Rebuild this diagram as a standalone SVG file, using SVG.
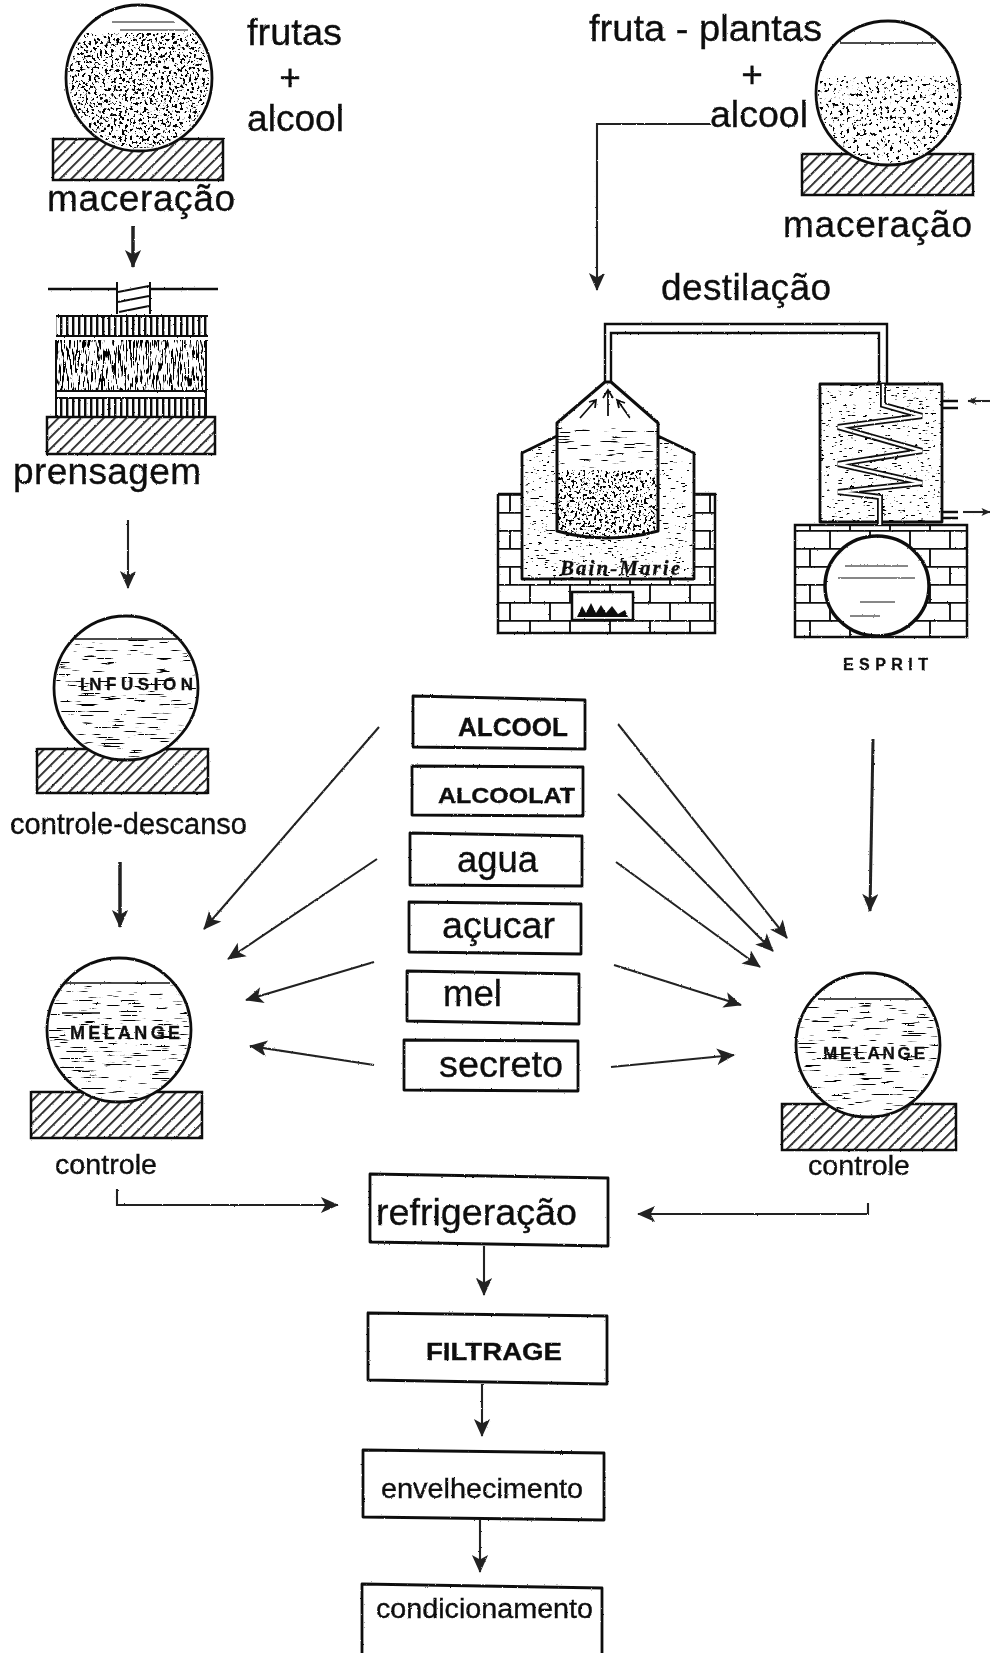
<svg xmlns="http://www.w3.org/2000/svg" width="990" height="1653" viewBox="0 0 990 1653">
<style>
text{font-family:"Liberation Sans",Arial,sans-serif;fill:#111;stroke:#111;stroke-width:.35}
.l{font-size:37px}
.m{font-size:29px}
.h{font-weight:bold}
.s{fill:none;stroke:#111;stroke-width:2.5}
.b{fill:#fff;stroke:#111;stroke-width:2.8;stroke-linejoin:round}
.w{fill:none;stroke:#111;stroke-width:1.2}
.c{fill:none;stroke:#222;stroke-width:2.1;marker-end:url(#head)}
.e{fill:none;stroke:#222;stroke-width:2.1}
</style>
<defs>
<marker id="head" markerUnits="userSpaceOnUse" viewBox="0 0 20 20" refX="19" refY="10" markerWidth="20" markerHeight="18" orient="auto"><path d="M20,10 L0,1 L5,10 L0,19 Z" fill="#222"/></marker>
<marker id="tiny" markerUnits="userSpaceOnUse" viewBox="0 0 20 20" refX="19" refY="10" markerWidth="10" markerHeight="9" orient="auto"><path d="M20,10 L0,1 L5,10 L0,19 Z" fill="#222"/></marker>
<pattern id="hatch" width="8" height="8" patternUnits="userSpaceOnUse" patternTransform="rotate(-45)"><rect width="8" height="8" fill="#fff"/><rect width="8" height="1.8" fill="#222"/></pattern>
<pattern id="brick" width="40" height="36" patternUnits="userSpaceOnUse" patternTransform="translate(498 494)"><path d="M0,.9H40M0,18.9H40M12,0V18M32,18V36" fill="none" stroke="#111" stroke-width="1.9"/></pattern>
<pattern id="vert" width="6" height="10" patternUnits="userSpaceOnUse"><rect width="2.4" height="10" fill="#111"/></pattern>
<filter id="rough" x="0" y="0" width="100%" height="100%" filterUnits="userSpaceOnUse" primitiveUnits="userSpaceOnUse"><feTurbulence type="fractalNoise" baseFrequency="0.7" numOctaves="1" seed="4" result="n"/><feDisplacementMap in="SourceGraphic" in2="n" scale="2.2" xChannelSelector="R" yChannelSelector="G"/></filter>
<filter id="speck" x="0" y="0" width="100%" height="100%" color-interpolation-filters="sRGB"><feTurbulence type="fractalNoise" baseFrequency="0.36" numOctaves="2" seed="3"/><feColorMatrix values="0 0 0 0 0 0 0 0 0 0 0 0 0 0 0 16 0 0 0 -9"/></filter>
<filter id="speckB" x="0" y="0" width="100%" height="100%" color-interpolation-filters="sRGB"><feTurbulence type="fractalNoise" baseFrequency="0.3" numOctaves="2" seed="8"/><feColorMatrix values="0 0 0 0 0 0 0 0 0 0 0 0 0 0 0 16 0 0 0 -9.8"/></filter>
<filter id="water" x="0" y="0" width="100%" height="100%" color-interpolation-filters="sRGB"><feTurbulence type="fractalNoise" baseFrequency="0.04 0.7" numOctaves="2" seed="5"/><feColorMatrix values="0 0 0 0 0 0 0 0 0 0 0 0 0 0 0 18 0 0 0 -11.9"/></filter>
<filter id="dots" x="0" y="0" width="100%" height="100%" color-interpolation-filters="sRGB"><feTurbulence type="fractalNoise" baseFrequency="0.16 0.6" numOctaves="2" seed="11"/><feColorMatrix values="0 0 0 0 0 0 0 0 0 0 0 0 0 0 0 18 0 0 0 -12.2"/></filter>
<filter id="stripe" x="0" y="0" width="100%" height="100%" color-interpolation-filters="sRGB"><feTurbulence type="fractalNoise" baseFrequency="0.6 0.08" numOctaves="2" seed="7"/><feColorMatrix values="0 0 0 0 0 0 0 0 0 0 0 0 0 0 0 14 0 0 0 -7.4"/></filter>
<clipPath id="cf1"><circle cx="139" cy="78" r="70"/></clipPath>
<clipPath id="cf2"><circle cx="888" cy="93" r="70"/></clipPath>
<clipPath id="cf3"><circle cx="126" cy="688" r="70"/></clipPath>
<clipPath id="cf4"><circle cx="119" cy="1030" r="70"/></clipPath>
<clipPath id="cf5"><circle cx="868" cy="1045" r="70"/></clipPath>
<clipPath id="cjacket"><path d="M522,453L557,436V531Q607,545 658,531V436L694,453V579H522Z"/></clipPath>
<clipPath id="cinner"><path d="M557,423L605,385H611L658,423V531Q607,545 557,531Z"/></clipPath>
</defs>
<g filter="url(#rough)">
<rect width="990" height="1653" fill="#fff"/>
<g id="connectors">
<path class="c" d="M133,226V267" style="stroke-width:3.5"/>
<path class="c" d="M128,520V588"/>
<path class="c" d="M120,862V927" style="stroke-width:3.5"/>
<path class="c" d="M710,124H597V290"/>
<path class="c" d="M379,727L204,929"/>
<path class="c" d="M377,859L228,959"/>
<path class="c" d="M374,962L246,1000"/>
<path class="c" d="M374,1065L250,1046"/>
<path class="c" d="M618,724L787,938"/>
<path class="c" d="M618,794L773,951"/>
<path class="c" d="M616,862L760,967"/>
<path class="c" d="M614,965L741,1005"/>
<path class="c" d="M611,1067L734,1055"/>
<path class="c" d="M873,739L870,911" style="stroke-width:3"/>
<path class="c" d="M117,1189V1205H338"/>
<path class="c" d="M868,1203V1214H638"/>
<path class="c" d="M484,1246V1295"/>
<path class="c" d="M482,1384V1436"/>
<path class="c" d="M480,1520V1572"/>
<path class="e" d="M990,401H968" style="marker-end:url(#tiny)"/>
<path class="e" d="M963,512H990" style="marker-end:url(#tiny)"/>
</g>

<g id="maceracao-frutas">
<rect class="s" x="53" y="139" width="170" height="41" style="fill:url(#hatch)"/>
<circle class="b" cx="139" cy="78" r="73"/>
<rect x="66" y="33" width="146" height="122" filter="url(#speck)" clip-path="url(#cf1)"/>
<path class="w" d="M112,22H175M120,30H188"/>
<text class="l" x="47" y="211" textLength="188" lengthAdjust="spacing">maceração</text>
</g>
<g id="label-frutas">
<text class="l" x="247" y="45" textLength="95" lengthAdjust="spacingAndGlyphs">frutas</text>
<text class="l" x="290" y="90" text-anchor="middle">+</text>
<text class="l" x="247" y="131" textLength="97" lengthAdjust="spacingAndGlyphs">alcool</text>
</g>

<g id="prensagem">
<path class="s" d="M48,289H218"/>
<path d="M117,282H150V314H117Z" fill="#fff"/>
<path class="s" d="M117,282V314M150,282V314M118,292L149,286M118,302L149,296M119,312L149,306" style="stroke-width:2"/>
<rect x="56" y="316" width="152" height="20" fill="url(#vert)"/>
<rect x="56" y="340" width="150" height="51" filter="url(#stripe)"/>
<rect x="56" y="398" width="150" height="19" fill="url(#vert)"/>
<path class="s" d="M56,316H208M56,336H208M56,340V416M206,340V416M56,391H206M56,398H206" style="stroke-width:2"/>
<rect class="s" x="47" y="417" width="168" height="37" style="fill:url(#hatch)"/>
<text class="l" x="13" y="484" textLength="188" lengthAdjust="spacing">prensagem</text>
</g>

<g id="infusion">
<rect class="s" x="37" y="749" width="171" height="44" style="fill:url(#hatch)"/>
<circle class="b" cx="126" cy="688" r="72"/>
<path class="s" d="M75,639H177" style="stroke-width:1.5"/>
<rect x="54" y="640" width="144" height="118" filter="url(#water)" clip-path="url(#cf3)"/>
<text class="h" x="80" y="690" font-size="17" textLength="113" lengthAdjust="spacing">INFUSION</text>
<text class="m" x="10" y="834" textLength="237" lengthAdjust="spacingAndGlyphs">controle-descanso</text>
</g>

<g id="melange-esquerda">
<rect class="s" x="31" y="1092" width="171" height="46" style="fill:url(#hatch)"/>
<circle class="b" cx="119" cy="1030" r="72"/>
<path class="s" d="M66,983H170M62,1013H100" style="stroke-width:1.5"/>
<rect x="48" y="982" width="144" height="118" filter="url(#water)" clip-path="url(#cf4)"/>
<text class="h" x="70" y="1039" font-size="18" textLength="110" lengthAdjust="spacing">MELANGE</text>
<text class="m" x="55" y="1174" textLength="102" lengthAdjust="spacingAndGlyphs" style="font-size:27px">controle</text>
</g>

<g id="melange-direita">
<rect class="s" x="782" y="1104" width="174" height="46" style="fill:url(#hatch)"/>
<circle class="b" cx="868" cy="1045" r="72"/>
<path class="s" d="M818,999H925" style="stroke-width:1.5"/>
<rect x="797" y="1000" width="144" height="116" filter="url(#water)" clip-path="url(#cf5)"/>
<text class="h" x="823" y="1059" font-size="17" textLength="102" lengthAdjust="spacing">MELANGE</text>
<text class="m" x="808" y="1175" textLength="102" lengthAdjust="spacingAndGlyphs" style="font-size:27px">controle</text>
</g>

<g id="maceracao-plantas">
<rect class="s" x="802" y="154" width="171" height="41" style="fill:url(#hatch)"/>
<circle class="b" cx="888" cy="93" r="72"/>
<path class="s" d="M840,43H936" style="stroke-width:1.5"/>
<rect x="817" y="76" width="143" height="90" filter="url(#speckB)" clip-path="url(#cf2)"/>
<text class="l" x="783" y="237" textLength="189" lengthAdjust="spacing">maceração</text>
</g>
<g id="label-plantas">
<text class="l" x="589" y="41" textLength="233" lengthAdjust="spacingAndGlyphs">fruta - plantas</text>
<text class="l" x="752" y="87" text-anchor="middle">+</text>
<text class="l" x="710" y="127" textLength="98" lengthAdjust="spacingAndGlyphs">alcool</text>
</g>

<g id="destilacao">
<text class="l" x="661" y="300" textLength="170" lengthAdjust="spacing">destilação</text>
<rect x="498" y="494" width="217" height="139" fill="url(#brick)"/>
<path class="s" d="M498,494H522M692,494H715V633H498V494"/>
<rect x="572" y="592" width="61" height="28" fill="#fff" stroke="#111" stroke-width="2.5"/>
<path d="M577,617L582,606L586,613L591,603L596,613L601,605L606,613L612,606L618,614L625,610L628,617Z" fill="#111"/>
<path class="b" d="M522,453L557,436H658L694,453V579H522Z"/>
<rect x="522" y="436" width="172" height="143" filter="url(#dots)" clip-path="url(#cjacket)"/>
<path class="b" d="M605,382L557,423V531Q607,545 658,531V423L611,382Z" style="stroke-width:3"/>
<rect x="558" y="428" width="100" height="42" filter="url(#water)" clip-path="url(#cinner)"/>
<rect x="558" y="470" width="100" height="68" filter="url(#speck)" clip-path="url(#cinner)"/>
<path class="s" d="M605,382V324H887V384M611,382V333H879V405" style="stroke-width:2.4"/>
<path class="s" d="M608,416V392M603,398L608,390L613,398M580,418L595,401M589,402L596,400L595,408M630,418L618,401M619,408L617,400L625,403" style="stroke-width:1.8"/>
<text x="560" y="575" font-size="21" textLength="120" lengthAdjust="spacing" style="font-family:'Liberation Serif',serif;font-style:italic;font-weight:bold">Bain-Marie</text>
</g>

<g id="alambique-condensador">
<rect x="795" y="525" width="172" height="112" fill="url(#brick)"/>
<rect class="s" x="795" y="525" width="172" height="112"/>
<ellipse class="b" cx="877" cy="586" rx="52" ry="50" style="stroke-width:3.5"/>
<path class="w" d="M845,566H908M838,578H915M860,602H895M850,616H880"/>
<rect class="b" x="820" y="384" width="122" height="138"/>
<rect x="820" y="384" width="122" height="138" filter="url(#dots)"/>
<path d="M883,384V405L922,416L838,427L922,451L838,464L922,483L838,492L880,497V525" fill="none" stroke="#111" stroke-width="6"/>
<path d="M883,384V405L922,416L838,427L922,451L838,464L922,483L838,492L880,497V525" fill="none" stroke="#fff" stroke-width="2.4"/>
<path class="s" d="M942,401H958M942,408H958M942,512H958M942,518H958"/>
<text class="h" x="843" y="670" font-size="16" textLength="85" lengthAdjust="spacing">ESPRIT</text>
</g>

<g id="alcool">
<path class="b" d="M413,696L585,700V749L413,747Z"/>
<text class="h" x="458" y="736" font-size="25" textLength="110" lengthAdjust="spacingAndGlyphs">ALCOOL</text>
</g>
<g id="alcoolat">
<path class="b" d="M412,766L583,767V816L412,815Z"/>
<text class="h" x="438" y="803" font-size="22" textLength="137" lengthAdjust="spacingAndGlyphs">ALCOOLAT</text>
</g>
<g id="agua">
<path class="b" d="M410,833L582,836V886L410,885Z"/>
<text class="l" x="457" y="872" textLength="81" lengthAdjust="spacingAndGlyphs">agua</text>
</g>
<g id="acucar">
<path class="b" d="M409,902L581,904V954L409,952Z"/>
<text class="l" x="442" y="938" textLength="113" lengthAdjust="spacingAndGlyphs">açucar</text>
</g>
<g id="mel">
<path class="b" d="M407,971L579,974V1024L407,1021Z"/>
<text class="l" x="443" y="1006" textLength="59" lengthAdjust="spacingAndGlyphs">mel</text>
</g>
<g id="secreto">
<path class="b" d="M404,1040L578,1041V1091L404,1090Z"/>
<text class="l" x="439" y="1077" textLength="124" lengthAdjust="spacingAndGlyphs">secreto</text>
</g>

<g id="refrigeracao">
<path class="b" d="M370,1174L608,1178V1246L370,1242Z"/>
<text class="l" x="376" y="1225" textLength="201" lengthAdjust="spacingAndGlyphs">refrigeração</text>
</g>
<g id="filtrage">
<path class="b" d="M368,1313L607,1316V1384L368,1380Z"/>
<text class="h" x="426" y="1360" font-size="24" textLength="136" lengthAdjust="spacingAndGlyphs">FILTRAGE</text>
</g>
<g id="envelhecimento">
<path class="b" d="M363,1450L604,1453V1520L363,1517Z"/>
<text class="m" x="381" y="1498" textLength="202" lengthAdjust="spacingAndGlyphs" style="font-size:27px">envelhecimento</text>
</g>
<g id="condicionamento">
<path class="b" d="M362,1653V1584L602,1588V1653"/>
<text class="m" x="376" y="1618" textLength="217" lengthAdjust="spacingAndGlyphs" style="font-size:27px">condicionamento</text>
</g>
</g>
</svg>
